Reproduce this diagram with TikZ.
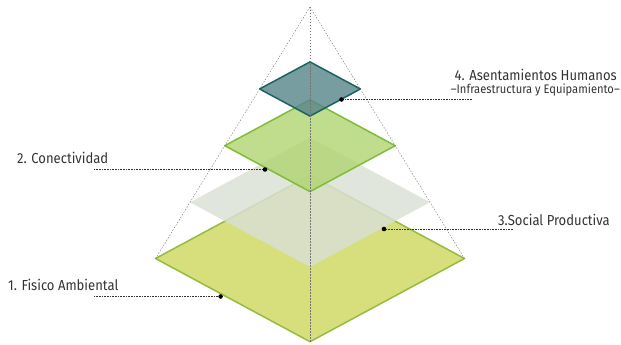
\documentclass[tikz,border=0pt]{standalone}
\usepackage{fontspec}
\setmainfont{Fira Sans}
\newfontfamily\labelfont[FakeStretch=0.9]{Fira Sans}
\definecolor{fisicoFill}{RGB}{214,223,124}
\definecolor{fisicoLine}{RGB}{150,188,62}
\definecolor{socialFill}{RGB}{218,224,214}
\definecolor{conectFill}{RGB}{176,212,112}
\definecolor{conectLine}{RGB}{128,188,58}
\definecolor{asentFill}{RGB}{86,132,138}
\definecolor{asentLine}{RGB}{28,98,94}
\begin{document}
\begin{tikzpicture}[x=1pt,y=-1pt,
    layer/.style={line width=1.5pt, line join=round},
    guide/.style={black!55, line width=0.4pt, dash pattern=on 1.5pt off 1.5pt},
    leader/.style={black!80, line width=0.6pt, densely dotted},
    label/.style={anchor=base west, inner sep=0pt, text=black!80, font=\labelfont\fontsize{14.5}{16}\selectfont}]
    \useasboundingbox (0,0) rectangle (621,345);
    % pyramid corners
    \coordinate (apex) at (310,7);
    \coordinate (baseL) at (155.5,258.5);
    \coordinate (baseR) at (464.5,258.5);
    \coordinate (baseF) at (310,341.7);
    % layers, bottom to top
    \filldraw[layer, draw=fisicoLine, fill=fisicoFill] (baseL) -- (310,175.3) -- (baseR) -- (baseF) -- cycle;
    \fill[socialFill, opacity=0.82] (190,202.3) -- (310,137.7) -- (430,202.3) -- (310,266.9) -- cycle;
    \filldraw[layer, draw=conectLine, fill=conectFill, fill opacity=0.8] (224.8,145.7) -- (310,99.8) -- (395.2,145.7) -- (310,191.6) -- cycle;
    \filldraw[layer, draw=asentLine, fill=asentFill, fill opacity=0.8] (259.6,89) -- (310,61.9) -- (360.4,89) -- (310,116.1) -- cycle;
    % pyramid edges
    \draw[guide] (apex) -- (baseL);
    \draw[guide] (apex) -- (baseR);
    \draw[guide] (apex) -- (baseF);
    % labels
    \node[label] (fisico) at (8,290) {1. Fisico Ambiental};
    \node[label] (conect) at (17,163) {2. Conectividad};
    \node[label] (social) at (498,225) {3.Social Productiva};
    \node[label, anchor=base east, font=\labelfont\fontsize{14.5}{16}\selectfont] (asent) at (617,81) {4. Asentamientos Humanos};
    \node[label, anchor=base east, font=\labelfont\fontsize{12.4}{14}\selectfont] (infra) at (620,93.5) {–Infraestructura y Equipamiento–};
    % leader lines
    \coordinate (dot1) at (220.6,296.5);
    \coordinate (dot2) at (265,169.5);
    \coordinate (dot3) at (384,229);
    \coordinate (dot4) at (341.5,99.5);
    \coordinate (end1) at (94,296.5);
    \coordinate (end2) at (94,169.5);
    \coordinate (end3) at (513,229);
    \coordinate (end4) at (472,99.5);
    \foreach \i in {1,2,3,4} {
        \draw[leader] (end\i) -- (dot\i);
        \fill[black] (dot\i) circle (2.3pt);
    }
\end{tikzpicture}
\end{document}
